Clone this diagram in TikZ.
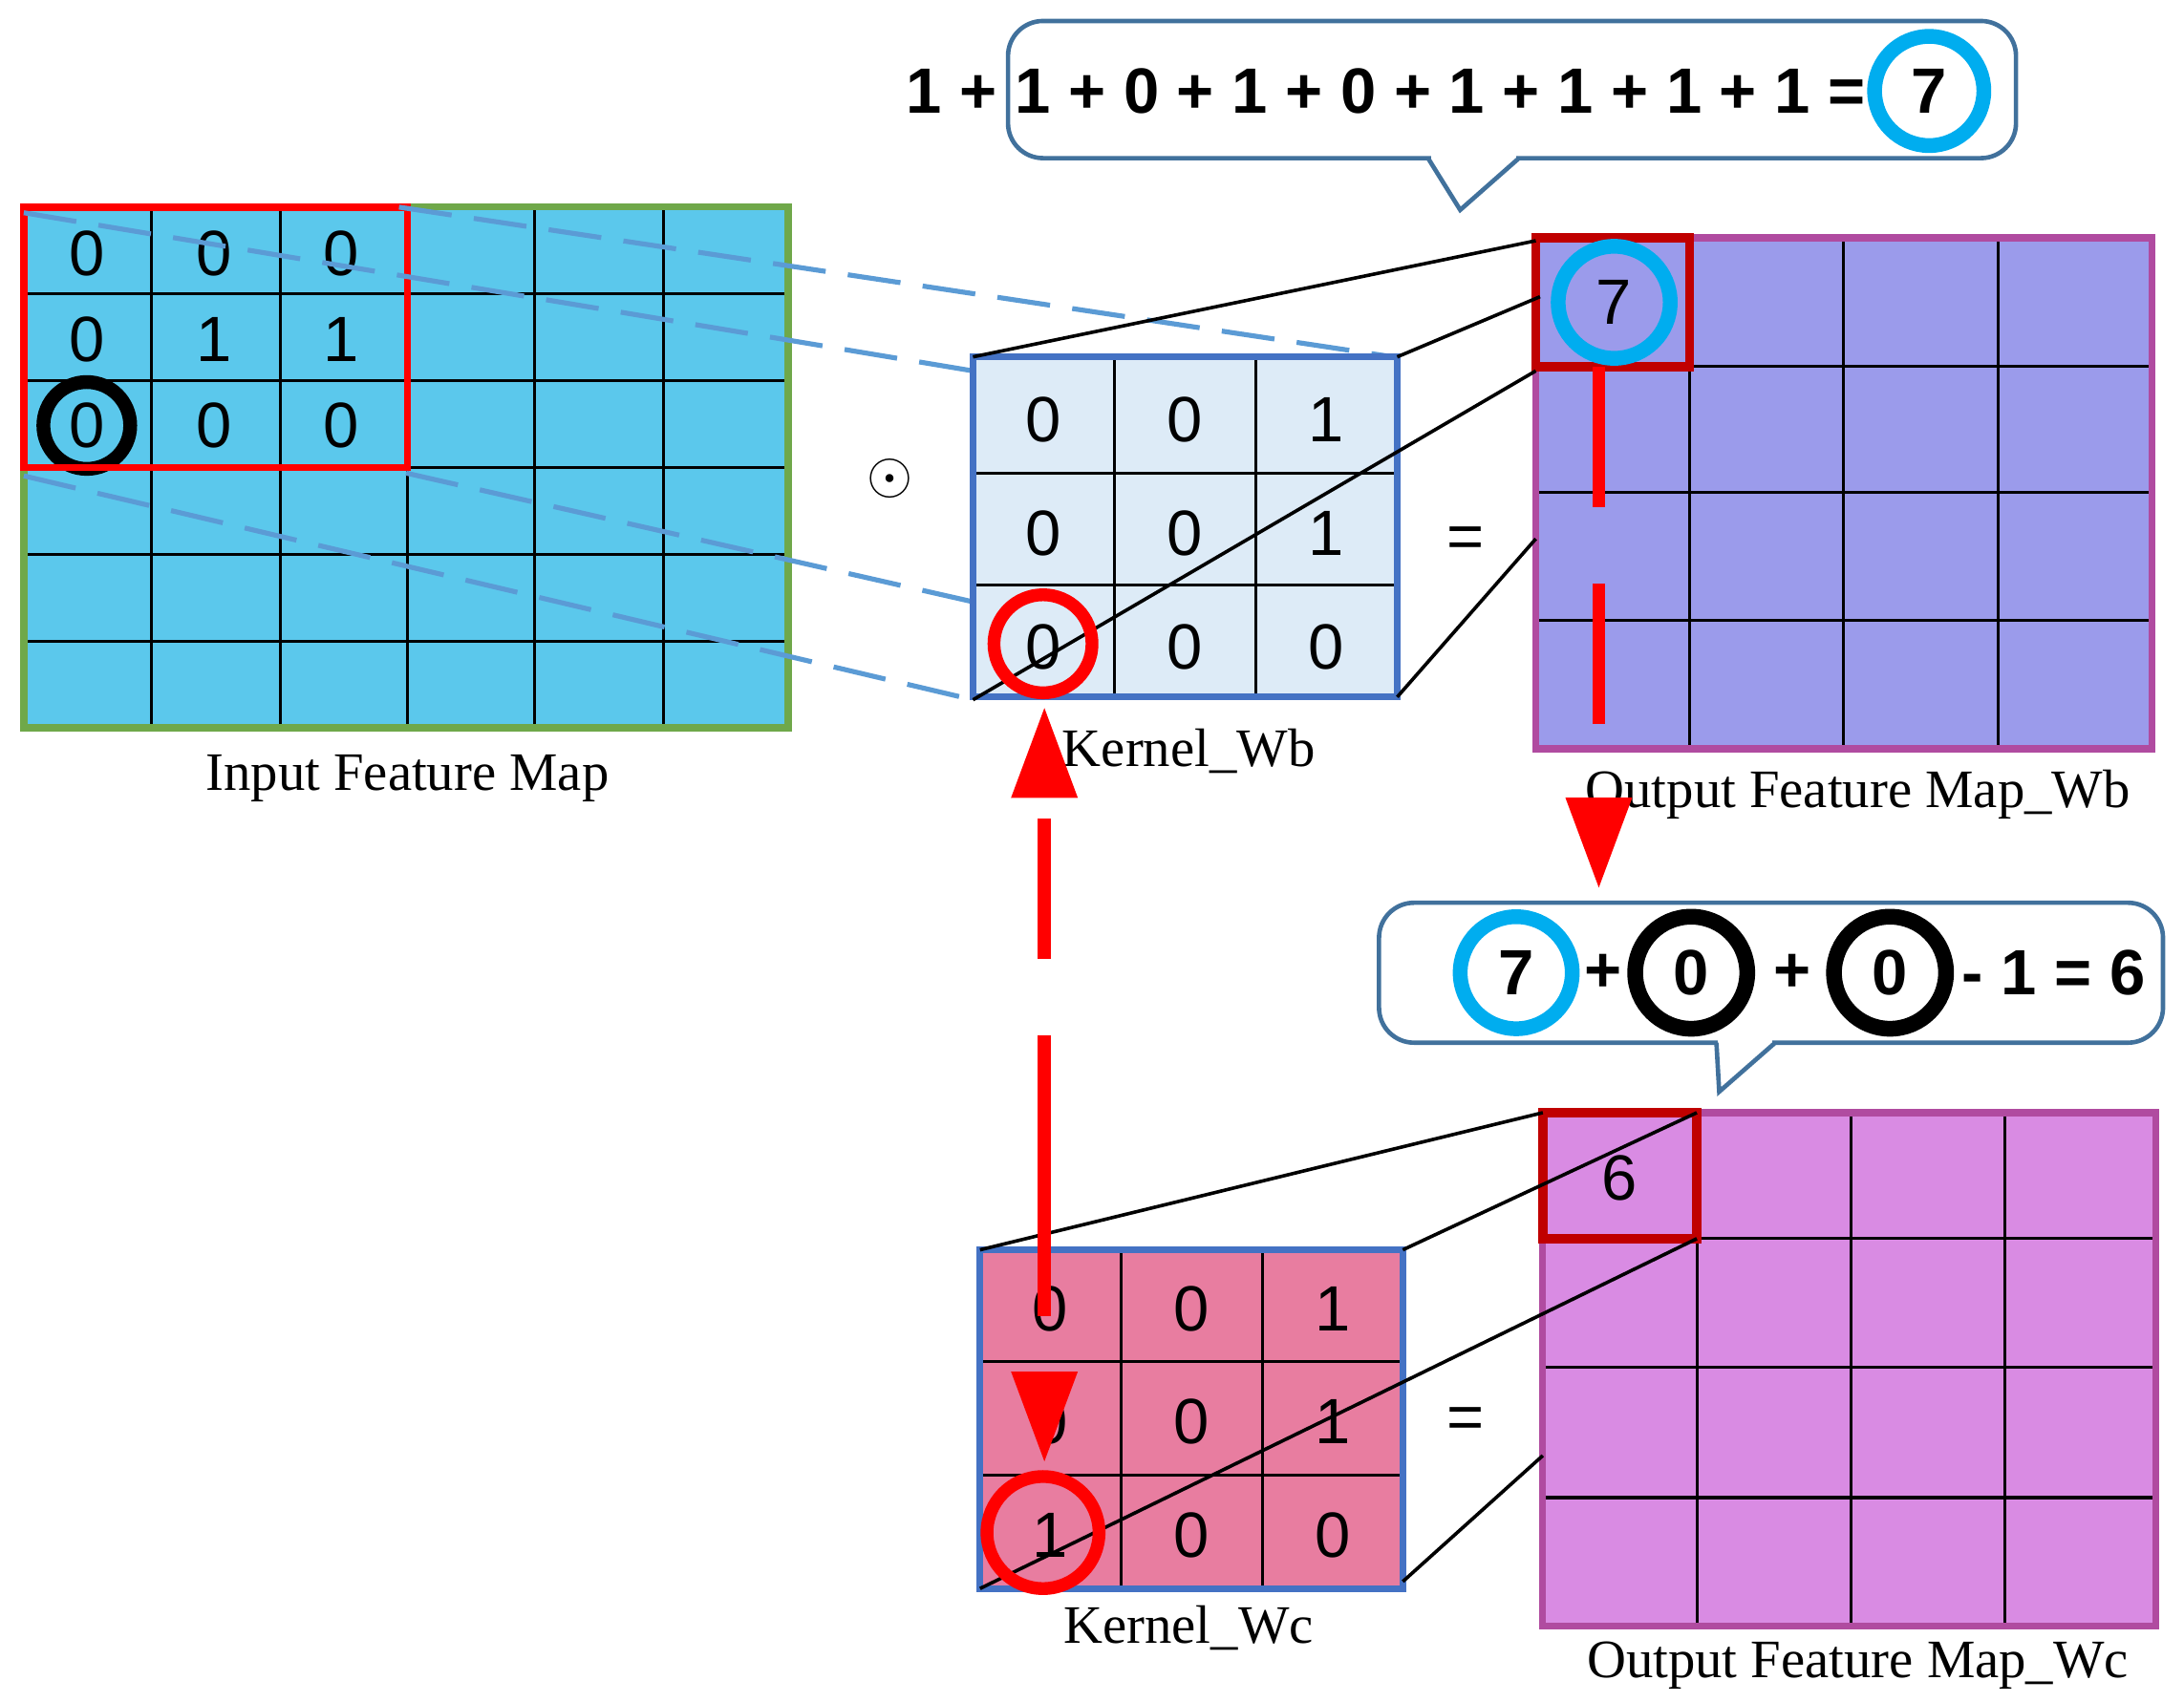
\documentclass[tikz,border=0pt]{standalone}
\usepackage{fontspec}
\setmainfont{Liberation Serif}
\newfontfamily\digitfont{Liberation Sans}
\usetikzlibrary{arrows.meta}
\usetikzlibrary{positioning}
\definecolor{inblue}{HTML}{5BC8EC}
\definecolor{ingreen}{HTML}{6FA84A}
\definecolor{kblue}{HTML}{4472C4}
\definecolor{kfill}{HTML}{DDEBF7}
\definecolor{kpink}{HTML}{E87DA0}
\definecolor{outb}{HTML}{9B9BEB}
\definecolor{outc}{HTML}{D98BE3}
\definecolor{omag}{HTML}{B04BA0}
\definecolor{dred}{HTML}{C00000}
\definecolor{dashblue}{HTML}{5B9BD5}
\definecolor{callblue}{HTML}{41719C}
\begin{document}
\begin{tikzpicture}[x=0.01cm, y=-0.01cm,
    num/.style={font=\digitfont\fontsize{13}{13}\selectfont},
    bnum/.style={font=\digitfont\bfseries\fontsize{13}{13}\selectfont},
    maplabel/.style={font=\fontsize{11}{11}\selectfont},
    grid/.style={line width=0.6pt},
    ring/.style={circle, minimum size=#1, inner sep=0pt},
    callout/.style={draw=callblue, line width=0.9pt, fill=white, rounded corners=0.25cm},
    proj/.style={line width=0.7pt},
    bluedash/.style={dashblue, line width=1pt, dash pattern=on 0.38cm off 0.16cm},
    reddash/.style={red, line width=2.6pt, dash pattern=on 1cm off 0.55cm,
      -{Triangle[length=0.65cm,width=0.45cm]}}]

    \useasboundingbox (0,0) rectangle (1560,1216);

    % Input feature map
    \fill[inblue] (17,148) rectangle (563,520);
    \foreach \x in {108,200,291,382,474}
        \draw[grid] (\x,148) -- (\x,520);
    \foreach \y in {210,272,334,396,458}
        \draw[grid] (17,\y) -- (563,\y);
    \draw[ingreen, line width=1.4pt] (17,148) rectangle (563,520);
    \foreach \v [count=\i from 0] in {0,0,0,0,1,1,0,0,0}
        \node[num] (i\i) at ({62+91*mod(\i,3)},{181+61.5*int(\i/3)}) {\v};
    \node[ring=0.62cm, draw=black, line width=2.8pt] (ic) at (62,304) {};
    \draw[red, line width=1.5pt] (17,148) rectangle (291,334);
    \node[maplabel] (incap) at (291,556) {Input Feature Map};

    % dashed projections
    \draw[bluedash] (17,152) -- (695,265);
    \draw[bluedash] (285,148) -- (995,255);
    \draw[bluedash] (17,340) -- (695,500);
    \draw[bluedash] (290,338) -- (695,430);

    % Kernel_Wb
    \fill[kfill] (695,255) rectangle (998,498);
    \foreach \x in {796,897}
        \draw[grid] (\x,255) -- (\x,498);
    \foreach \y in {338,418}
        \draw[grid] (695,\y) -- (998,\y);
    \draw[kblue, line width=1.4pt] (695,255) rectangle (998,498);
    \foreach \v [count=\i from 0] in {0,0,1,0,0,1,0,0,0}
        \node[num] (b\i) at ({745+101*mod(\i,3)},{300+81*int(\i/3)}) {\v};
    \node[maplabel] (bcap) at (849,537) {Kernel\_Wb};
    \node[font=\fontsize{13}{13}\selectfont] (odot) at (636,342) {$\odot$};
    \node[num] (eqb) at (1047,388) {=};

    % Output map Wb
    \fill[outb] (1097,170) rectangle (1537,535);
    \foreach \x in {1207,1317,1427}
        \draw[grid] (\x,170) -- (\x,535);
    \foreach \y in {262,352,443}
        \draw[grid] (1097,\y) -- (1537,\y);
    \draw[omag, line width=1.4pt] (1097,170) rectangle (1537,535);
    \draw[dred, line width=1.8pt] (1097,170) rectangle (1207,262);
    \node[num] (ob) at (1153,216) {7};
    \node[ring=0.8cm, draw=cyan, line width=3pt] (obc) at (1153,216) {};
    \node[maplabel] (obcap) at (1327,568) {Output Feature Map\_Wb};
    \draw[proj] (695,255) -- (1097,172);
    \draw[proj] (998,255) -- (1100,212);
    \draw[proj] (695,500) -- (1097,265);
    \draw[proj] (998,498) -- (1097,385);

    % callout Wb
    \draw[callout] (720,15) rectangle (1440,113);
    \fill[white] (1022,108) rectangle (1083,116);
    \draw[callblue, line width=0.9pt] (1020,113) -- (1043,150) -- (1085,113);
    \node[bnum, anchor=east] (sumb) at (1345,65)
        {1 + 1 + 0 + 1 + 0 + 1 + 1 + 1 + 1 =};
    \node[bnum] (s7) at (1378,65) {7};
    \node[ring=0.78cm, draw=cyan, line width=3pt] (s7c) at (1378,65) {};

    % Kernel_Wc
    \fill[kpink] (700,893) rectangle (1002,1135);
    \foreach \x in {801,902}
        \draw[grid] (\x,893) -- (\x,1135);
    \foreach \y in {973,1054}
        \draw[grid] (700,\y) -- (1002,\y);
    \draw[kblue, line width=1.4pt] (700,893) rectangle (1002,1135);
    \foreach \v [count=\i from 0] in {0,0,1,0,0,1,1,0,0}
        \node[num] (c\i) at ({750+101*mod(\i,3)},{935+81*int(\i/3)}) {\v};
    \node[maplabel] (ccap) at (849,1163) {Kernel\_Wc};
    \node[num] (eqc) at (1047,1017) {=};

    % Output map Wc
    \fill[outc] (1102,795) rectangle (1540,1162);
    \foreach \x in {1212,1322,1432}
        \draw[grid] (\x,795) -- (\x,1162);
    \foreach \y in {885,977,1070}
        \draw[grid] (1102,\y) -- (1540,\y);
    \draw[omag, line width=1.4pt] (1102,795) rectangle (1540,1162);
    \draw[dred, line width=1.8pt] (1102,795) rectangle (1212,885);
    \node[num] (oc) at (1157,842) {6};
    \node[maplabel] (occap) at (1327,1190) {Output Feature Map\_Wc};
    \draw[proj] (700,893) -- (1102,795);
    \draw[proj] (1002,893) -- (1212,795);
    \draw[proj] (700,1135) -- (1212,885);
    \draw[proj] (1002,1130) -- (1102,1040);

    % callout Wc
    \draw[callout] (985,645) rectangle (1545,745);
    \fill[white] (1227,740) rectangle (1266,748);
    \draw[callblue, line width=0.9pt] (1226,745) -- (1228,780) -- (1268,745);
    \node[bnum] (t7) at (1083,695) {7};
    \node[ring=0.8cm, draw=cyan, line width=3pt] (t7c) at (1083,695) {};
    \node[bnum] (tp1) at (1145,695) {+};
    \node[bnum] (t0a) at (1208,695) {0};
    \node[ring=0.8cm, draw=black, line width=3.2pt] (t0ac) at (1208,695) {};
    \node[bnum] (tp2) at (1280,695) {+};
    \node[bnum] (t0b) at (1350,695) {0};
    \node[ring=0.8cm, draw=black, line width=3.2pt] (t0bc) at (1350,695) {};
    \node[bnum] (tend) at (1467,695) {- 1 = 6};

    % red rings and arrows
    \node[ring=0.7cm, draw=red, line width=2.6pt] (rb) at (745,460) {};
    \node[ring=0.8cm, draw=red, line width=2.6pt] (rc) at (745,1095) {};
    \coordinate (ra) at (1142,262);
    \coordinate (rz) at (1142,635);
    \draw[reddash] (ra) -- (rz);
    \coordinate (ka) at (746,840);
    \coordinate (kb) at (746,505);
    \coordinate (kc) at (746,1045);
    \draw[reddash] (ka) -- (kb);
    \draw[reddash] (ka) -- (kc);

\end{tikzpicture}
\end{document}
